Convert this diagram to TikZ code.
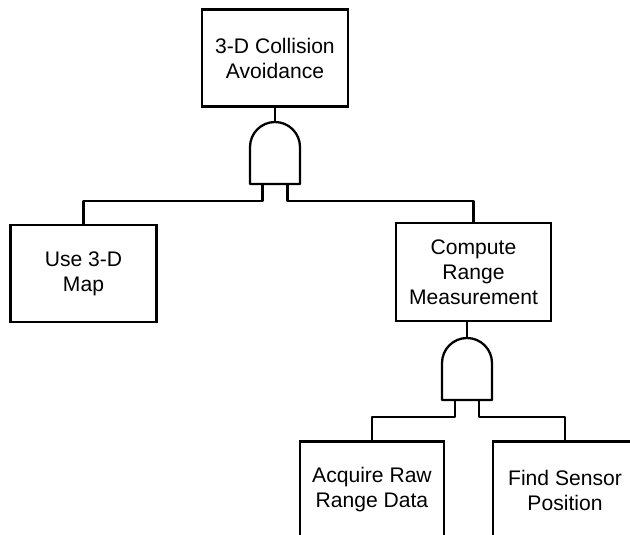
\documentclass[tikz,border=0pt]{standalone}
\usepackage{fontspec}
\setmainfont{Liberation Sans}
\usetikzlibrary{positioning,calc}

\begin{document}
\begin{tikzpicture}[
  x=0.02cm, y=0.02cm,
  font=\fontsize{12pt}{14.2pt}\selectfont,
  event/.style={draw=black, line width=1.3pt, fill=white, minimum width=2.92cm, minimum height=1.94cm, align=center, inner sep=2pt},
  andgate/.style={minimum width=1cm, minimum height=1.24cm, inner sep=0pt, outer sep=0pt},
  wire/.style={line width=1.3pt, line join=round}
]
\useasboundingbox (0,0) rectangle (630,535);
\clip (0,0) rectangle (630,535);

%% ============ Top event ============
\node[event] (avoid) at (275,477) {3-D Collision\\Avoidance};
\node[andgate] (and1) at (275,382) {};
\draw[wire] (and1.south west) -- ++(0,0.74cm) arc[start angle=180, end angle=0, radius=0.5cm] -- (and1.south east) -- cycle;
\draw[wire] (avoid.south) -- (and1.north);

%% ============ Second level ============
\node[event] (map)   at (83.5,261.5) {Use 3-D\\Map};
\node[event, minimum width=3.1cm, minimum height=1.96cm] (range) at (473.5,263) {Compute\\Range\\Measurement};

\draw[wire] ($(and1.south)+(-0.25cm,0)$) -- ++(0,-0.34cm) -| (map.north);
\draw[wire] ($(and1.south)+(0.25cm,0)$) -- ++(0,-0.34cm) -| (range.north);

%% gate under Compute Range Measurement, a little left of the box centre
\node[andgate] (and2) at (467,166) {};
\draw[wire] (and2.south west) -- ++(0,0.74cm) arc[start angle=180, end angle=0, radius=0.5cm] -- (and2.south east) -- cycle;
\draw[wire] (and2.north) -- (and2.north |- range.south);

%% ============ Bottom level (cut by the page edge) ============
\node[event, minimum width=2.88cm] (raw)    at (372,45) {Acquire Raw\\Range Data};
\node[event, minimum width=2.88cm] (sensor) at (565,45) {Find Sensor\\Position};

\draw[wire] ($(and2.south)+(-0.24cm,0)$) -- ++(0,-0.34cm) -| (raw.north);
\draw[wire] ($(and2.south)+(0.24cm,0)$) -- ++(0,-0.34cm) -| (sensor.north);

\end{tikzpicture}
\end{document}
